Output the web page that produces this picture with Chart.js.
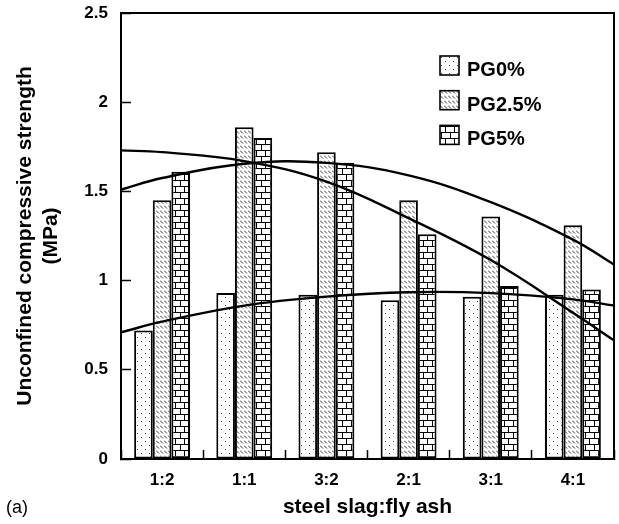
<!DOCTYPE html>
<html>
<head>
<meta charset="utf-8">
<script src="https://cdn.jsdelivr.net/npm/chart.js@4.4.0/dist/chart.umd.min.js"></script>
<style>
  html, body { margin: 0; padding: 0; background: #fff; }
</style>
</head>
<body>
<canvas id="strengthChart" width="619" height="524"></canvas>
<script>
// mix ratios on the x axis
const ratios = ['1:2', '1:1', '3:2', '2:1', '3:1', '4:1'];
const seriesNames = ['PG0%', 'PG2.5%', 'PG5%'];

// unconfined compressive strength, MPa
const pg0 = [0.72, 0.93, 0.92, 0.89, 0.91, 0.92];
const pg25 = [1.45, 1.86, 1.72, 1.45, 1.36, 1.31];
const pg5 = [1.61, 1.80, 1.66, 1.26, 0.97, 0.95];

// fitted curves at the category edges and centres
const fitX = [0, 0.5, 1.5, 2.5, 3.5, 4.5, 5.5, 6];
const fitPG0 = [0.71, 0.77, 0.86, 0.91, 0.935, 0.93, 0.895, 0.86];
const fitPG25 = [1.51, 1.575, 1.655, 1.66, 1.59, 1.44, 1.23, 1.09];
const fitPG5 = [1.73, 1.72, 1.67, 1.555, 1.35, 1.115, 0.82, 0.665];

const yTicks = [0, 0.5, 1, 1.5, 2, 2.5];

const FONT = "'Liberation Sans', Arial, Helvetica, sans-serif";
const canvas = document.getElementById('strengthChart');
const ctx = canvas.getContext('2d');

function makePattern(w, h, draw) {
    const cv = document.createElement('canvas');
    cv.width = w;
    cv.height = h;
    const c = cv.getContext('2d');
    c.fillStyle = '#fff';
    c.fillRect(0, 0, w, h);
    draw(c);
    return ctx.createPattern(cv, 'repeat');
}

// sparse dots
const dotFill = makePattern(8, 8, c => {
    c.fillStyle = '#444';
    c.fillRect(1, 1, 1, 1);
    c.fillRect(5, 5, 1, 1);
});

// short diagonal dashes
const hatchFill = makePattern(4, 5, c => {
    c.strokeStyle = '#3a3a3a';
    c.lineWidth = 1;
    c.beginPath();
    c.moveTo(0, 0.5);
    c.lineTo(3, 3.5);
    c.stroke();
});

// brick wall
const brickFill = makePattern(9, 12, c => {
    c.fillStyle = '#000';
    c.fillRect(0, 0, 9, 1);
    c.fillRect(0, 6, 9, 1);
    c.fillRect(0, 0, 1, 6);
    c.fillRect(4, 6, 1, 6);
});

// categories sit at the middle of each unit on the linear x axis
const slot = i => i + 0.5;

function barSet(i, values, fill) {
    return {
        label: seriesNames[i],
        data: values.map((v, k) => ({ x: slot(k), y: v })),
        backgroundColor: fill,
        borderColor: '#000',
        borderWidth: 2,
        borderSkipped: false,
        order: 2
    };
}

function fitLine(values) {
    return {
        type: 'line',
        data: fitX.map((x, i) => ({ x: x, y: values[i] })),
        borderColor: '#000',
        borderWidth: 2.4,
        pointRadius: 0,
        tension: 0.4,
        fill: false,
        order: 1
    };
}

const boxLegend = {
    id: 'boxLegend',
    afterDatasetsDraw(chart) {
        const c = chart.ctx;
        const area = chart.chartArea;
        let row = 0;
        chart.data.datasets.forEach(ds => {
            if (ds.type === 'line') return;
            const x = area.left + 319;
            const y = area.top + 43 + row * 34.7;
            c.save();
            c.fillStyle = ds.backgroundColor;
            c.fillRect(x, y, 19, 19);
            c.strokeStyle = '#000';
            c.lineWidth = 1.6;
            c.strokeRect(x, y, 19, 19);
            c.fillStyle = '#000';
            c.font = 'bold 20px ' + FONT;
            c.textBaseline = 'alphabetic';
            c.fillText(ds.label, x + 27, y + 20);
            c.restore();
            row++;
        });
    },
    afterDraw(chart) {
        const c = chart.ctx;
        c.save();
        c.fillStyle = '#000';
        c.font = '18px ' + FONT;
        c.textBaseline = 'middle';
        c.fillText('(a)', 6, 508);
        c.restore();
    }
};

new Chart(ctx, {
    type: 'bar',
    data: {
        datasets: [
            barSet(0, pg0, dotFill),
            barSet(1, pg25, hatchFill),
            barSet(2, pg5, brickFill),
            fitLine(fitPG0),
            fitLine(fitPG25),
            fitLine(fitPG5)
        ]
    },
    options: {
        responsive: false,
        animation: false,
        layout: { padding: { top: 13, right: 5, left: 0, bottom: 0 } },
        datasets: {
            bar: { categoryPercentage: 0.68, barPercentage: 1.0 }
        },
        plugins: {
            legend: { display: false },
            tooltip: { enabled: false }
        },
        scales: {
            // tick marks between the ratios
            x: {
                type: 'linear',
                position: 'bottom',
                weight: 0,
                min: 0,
                max: ratios.length,
                offset: false,
                afterBuildTicks: s => { s.ticks = ratios.concat(['']).map((r, i) => ({ value: i })); },
                grid: {
                    offset: false,
                    drawOnChartArea: false,
                    tickLength: -9,
                    tickWidth: 1.5,
                    color: '#000'
                },
                border: { display: true, color: '#000', width: 2 },
                ticks: { display: false },
                afterFit: s => { s.height = 0; }
            },
            // ratio labels and axis title
            xLab: {
                type: 'linear',
                position: 'bottom',
                weight: 1,
                min: 0,
                max: ratios.length,
                offset: false,
                afterBuildTicks: s => { s.ticks = ratios.map((r, i) => ({ value: slot(i) })); },
                grid: { display: false, drawTicks: false, offset: false },
                border: { display: false },
                ticks: {
                    color: '#000',
                    padding: 11,
                    autoSkip: false,
                    maxRotation: 0,
                    callback: (v, i) => ratios[i],
                    font: { family: FONT, size: 17, weight: 'bold' }
                },
                title: {
                    display: true,
                    text: 'steel slag:fly ash',
                    color: '#000',
                    padding: { top: 0, bottom: 4 },
                    font: { family: FONT, size: 21, weight: 'bold' }
                },
                afterFit: s => { s.height = 65; }
            },
            xTop: {
                type: 'linear',
                position: 'top',
                grid: { display: false, drawTicks: false },
                ticks: { display: false },
                border: { display: true, color: '#000', width: 2 },
                afterFit: s => { s.height = 0; }
            },
            y: {
                type: 'linear',
                position: 'left',
                min: 0,
                max: 2.5,
                afterBuildTicks: s => { s.ticks = yTicks.map(v => ({ value: v })); },
                grid: {
                    drawOnChartArea: false,
                    tickLength: -10,
                    tickWidth: 1.5,
                    color: '#000'
                },
                border: { display: true, color: '#000', width: 2 },
                ticks: {
                    color: '#000',
                    padding: 23,
                    callback: v => String(v),
                    font: { family: FONT, size: 17, weight: 'bold' }
                },
                title: {
                    display: true,
                    text: ['Unconfined compressive strength', '(MPa)'],
                    color: '#000',
                    padding: { top: 12, bottom: 0 },
                    font: { family: FONT, size: 21, weight: 'bold', lineHeight: 1.25 }
                },
                afterFit: s => {
                    s.width = 121;
                    // the large label padding should not push the plot down
                    s.paddingTop = 0;
                    s.paddingBottom = 0;
                }
            },
            yRight: {
                type: 'linear',
                position: 'right',
                grid: { display: false, drawTicks: false },
                ticks: { display: false },
                border: { display: true, color: '#000', width: 2 },
                afterFit: s => { s.width = 0; }
            }
        }
    },
    plugins: [boxLegend]
});
</script>
</body>
</html>
